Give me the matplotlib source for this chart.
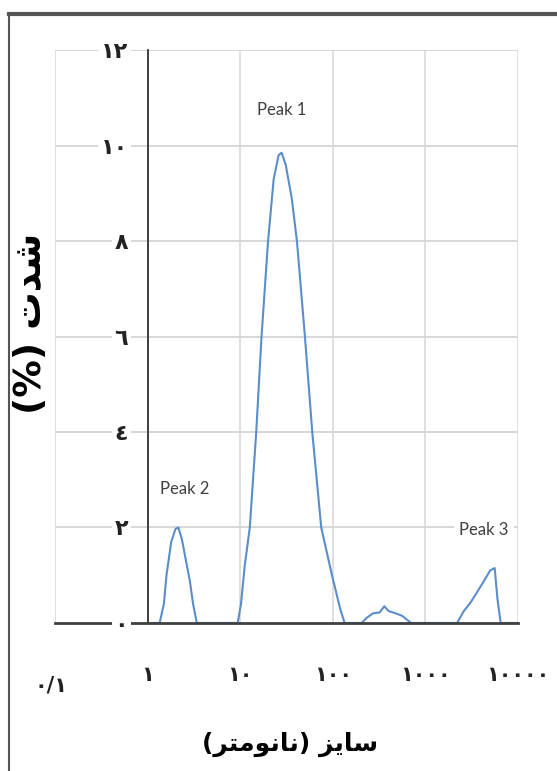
import numpy as np
import matplotlib.pyplot as plt
from matplotlib.lines import Line2D
from matplotlib.transforms import ScaledTranslation

# particle size distribution (DLS)
size_nm = [1.1, 1.35, 1.5, 1.6, 1.8, 2.0, 2.15, 2.35, 2.6, 2.85, 3.1, 3.4,
           9.4, 10.2, 11.2, 12.7, 14.9, 17, 20, 23, 26, 28, 31, 36, 41, 50,
           60, 75, 98, 120, 134,
           205, 230, 270, 320, 360, 400, 480, 560, 650, 700,
           2200, 2600, 3000, 3500, 4200, 5000, 5600, 6000, 6500, 10000]
intensity = [0, 0, 0.4, 1.0, 1.7, 1.97, 2.0, 1.75, 1.3, 0.9, 0.4, 0,
             0, 0.4, 1.2, 2.0, 4.0, 6.0, 8.0, 9.3, 9.8, 9.85, 9.6, 8.9, 8.0, 6.0,
             4.0, 2.0, 1.0, 0.3, 0,
             0, 0.1, 0.2, 0.22, 0.35, 0.25, 0.2, 0.15, 0.05, 0,
             0, 0.25, 0.4, 0.6, 0.85, 1.1, 1.15, 0.5, 0, 0]

x_ticks = [0.1, 1, 10, 100, 1000, 10000]
x_tick_labels = ['۰/۱', '۱', '۱۰', '۱۰۰', '۱۰۰۰', '۱۰۰۰۰']
y_ticks = [0, 2, 4, 6, 8, 10, 12]
y_tick_labels = ['۰', '۲', '٤', '٦', '۸', '۱۰', '۱۲']

peak_names = ['Peak 1', 'Peak 2', 'Peak 3']
peak_x = [28, 2.5, 4300]
peak_y = [10.75, 2.8, 1.95]

# Persian labels, pre-shaped (presentation forms) in visual order
x_title = '(\uFEAE\uFE98\uFEE3\uFEEE\uFEE7\uFE8E\uFEE7) \uFEB0\uFEF3\uFE8E\uFEB3'
y_title = '(%) \uFE95\uFEAA\uFEB7'

plt.rcParams['font.family'] = ['DejaVu Sans']

fig = plt.figure(figsize=(5.57, 7.71), dpi=100)
ax = fig.add_axes([0.0987, 0.192, 0.8313, 0.743])

ax.set_xscale('log')
ax.set_xlim(0.1, 10000)
ax.set_ylim(0, 12)

ax.hlines(y_ticks[1:], 0.1, 10000, color='#d4d4d4', lw=1.3, zorder=1)
ax.grid(axis='x', color='#d9d9d9', lw=1.2)
ax.grid(axis='y', visible=False)

ax.plot(size_nm, intensity, color='#5b8dca', lw=1.5, zorder=2)

for s in ['top', 'right']:
    ax.spines[s].set_visible(False)
ax.spines['left'].set_position(('data', 1))
ax.spines['left'].set_color('#333333')
ax.spines['left'].set_linewidth(1.3)
ax.spines['bottom'].set_color('#404040')
ax.spines['bottom'].set_linewidth(2)

ax.set_xticks(x_ticks)
ax.set_xticklabels(x_tick_labels, fontsize=15, fontweight='bold', color='#222222')
ax.xaxis.set_minor_locator(plt.NullLocator())
ax.set_yticks(y_ticks)
ax.set_yticklabels(y_tick_labels, fontsize=16, fontweight='bold', color='#222222')
ax.tick_params(axis='x', length=0, pad=30)
ax.tick_params(axis='y', length=0, pad=14)
ax.yaxis.set_zorder(3)
for lab in ax.get_yticklabels():
    lab.set_bbox(dict(facecolor='white', edgecolor='none', pad=2))
first = ax.get_xticklabels()[0]
first.set_transform(first.get_transform() + ScaledTranslation(-3 / 72, -8 / 72, fig.dpi_scale_trans))

for name, px, py in zip(peak_names, peak_x, peak_y):
    ax.text(px, py, name, fontsize=12, family=['Lato', 'DejaVu Sans'], color='#404040',
            ha='center', va='center',
            bbox=dict(facecolor='white', edgecolor='none', pad=4))

fig.text(0.52, 0.035, x_title, fontsize=18, fontweight='bold', ha='center', va='center')
fig.text(0.055, 0.58, y_title, fontsize=27, fontweight='bold', rotation=90,
         ha='center', va='center')

# frame lines of the cropped picture
fig.add_artist(Line2D([0.016, 1], [0.982, 0.982], color='#555555', lw=3))
fig.add_artist(Line2D([0.017, 0.017], [0, 0.982], color='#555555', lw=1.5))

fig.savefig('out.png', dpi=100)
